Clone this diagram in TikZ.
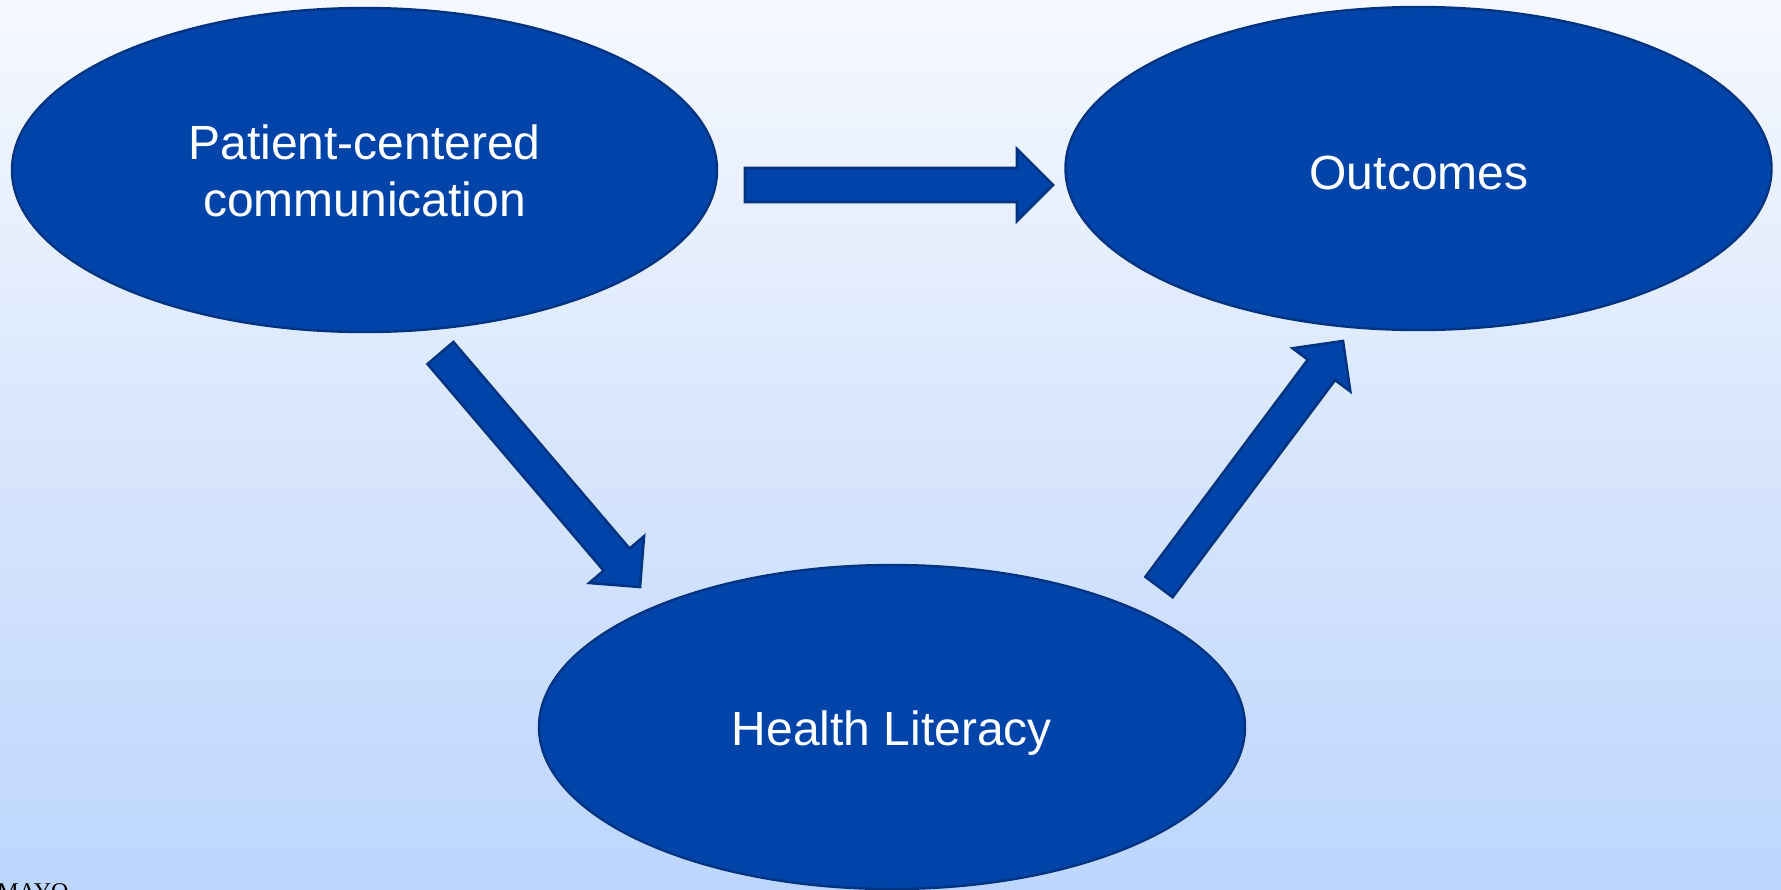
\documentclass[tikz,border=0pt]{standalone}
\usepackage{fontspec}
\setmainfont{Liberation Sans}
\newfontfamily\mayofont{Liberation Serif}
\usetikzlibrary{shapes.geometric,calc}

\definecolor{bgtop}{RGB}{246,249,255}
\definecolor{bgmid}{RGB}{216,230,252}
\definecolor{bgbot}{RGB}{189,214,254}
\definecolor{blobfill}{RGB}{0,68,170}
\definecolor{blobline}{RGB}{0,52,130}

\tikzset{
  bubble/.style={ellipse, fill=blobfill, draw=blobline, line width=1.2pt,
    inner sep=0pt, text=white, font=\fontsize{24}{28.5}\selectfont, align=center},
  fatarrow/.style={fill=blobfill, draw=blobline, line width=1.3pt, line join=miter},
}

% block arrow from tail #1 to tip #2: shaft 17pt wide, head 36pt wide, 18pt long
\newcommand\blockarrow[2]{%
  \coordinate (ba) at ($(#2)!18pt!(#1)$);
  \path[fatarrow]
    ($(#1)!8.5pt!90:(#2)$) -- ($(ba)!8.5pt!90:(#2)$) -- ($(ba)!18pt!90:(#2)$)
    -- (#2) -- ($(ba)!18pt!-90:(#2)$) -- ($(ba)!8.5pt!-90:(#2)$)
    -- ($(#1)!8.5pt!-90:(#2)$) -- cycle;
}

\begin{document}
\begin{tikzpicture}[x=0.5pt, y=-0.5pt]
  \path[use as bounding box, clip] (0,0) rectangle (1781,889);
  \shade[top color=bgtop, bottom color=bgbot, middle color=bgmid] (0,0) rectangle (1781,889);

  % the three ellipses
  \node[bubble, minimum width=352.5pt, minimum height=162pt] (pcc) at (364.5,170) {};
  \node[bubble, minimum width=353pt, minimum height=161.5pt] (out) at (1418.5,168.5) {};
  \node[bubble, minimum width=353pt, minimum height=162pt] (hl) at (892,727) {};

  \node[text=white, font=\fontsize{24}{28.5}\selectfont, align=center] (pcct) at (364.5,171) {Patient-centered\\communication};
  \node[text=white, font=\fontsize{24}{28.5}\selectfont] (outt) at (1419,173) {Outcomes};
  \node[text=white, font=\fontsize{24}{28.5}\selectfont] (hlt) at (892,733) {Health Literacy};

  % arrow ends
  \coordinate (a1t) at (745,185);
  \coordinate (a1h) at (1053,185);
  \coordinate (a2t) at (440.5,353);
  \coordinate (a2h) at (640,587);
  \coordinate (a3t) at (1159,587);
  \coordinate (a3h) at (1343,341);

  \blockarrow{a1t}{a1h}
  \blockarrow{a2t}{a2h}
  \blockarrow{a3t}{a3h}

  % footer mark, cut by the lower edge
  \node[anchor=base west, inner sep=0pt, text=black, font=\mayofont\fontsize{12}{14}\selectfont] (mayo) at (-3,899) {MAYO};
\end{tikzpicture}
\end{document}
